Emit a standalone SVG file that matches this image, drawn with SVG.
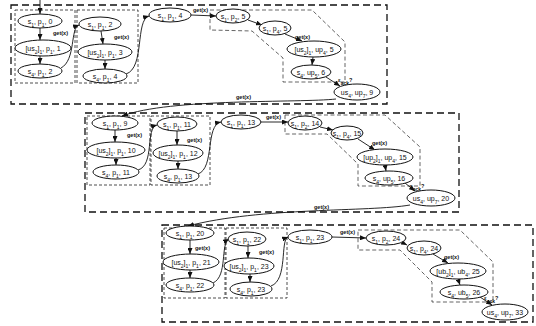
<svg xmlns="http://www.w3.org/2000/svg" width="536" height="326" viewBox="0 0 536 326">
<defs>
<marker id="a" markerUnits="userSpaceOnUse" markerWidth="6" markerHeight="5" refX="6" refY="2.5" orient="auto"><path d="M0,0 L6,2.5 L0,5 z" fill="#111"/></marker>
<style>
.o{fill:none;stroke:#111;stroke-width:1.3;stroke-dasharray:7 4}
.i{fill:none;stroke:#222;stroke-width:0.8;stroke-dasharray:3 2}
.h{fill:none;stroke:#222;stroke-width:0.7;stroke-dasharray:4 2.5}
ellipse{fill:#fff;stroke:#111;stroke-width:1}
text{font-family:"Liberation Sans",Arial,sans-serif;font-size:7px;text-anchor:middle;fill:#111}
.s{font-size:5px;baseline-shift:sub}
.l{font-size:5.5px;font-weight:bold;text-anchor:start}
.c{fill:none;stroke:#111;stroke-width:0.9;marker-end:url(#a)}
</style>
</defs>
<rect fill="#fff" width="536" height="326"/>
<g id="regions">
<rect class="o" x="11" y="5" width="376" height="99"/>
<rect class="i" x="15" y="10" width="60" height="73"/>
<rect class="i" x="77" y="10" width="61" height="73"/>
<polygon class="h" points="210,10 312,10 345,42 345,82 283,82 283,58 252,31 210,30"/>
<rect class="o" x="85" y="113" width="374" height="99"/>
<rect class="i" x="87" y="116" width="63" height="69"/>
<rect class="i" x="151" y="116" width="59" height="69"/>
<polygon class="h" points="285,115 385,115 420,147 420,186 358,186 358,164 327,134 285,134"/>
<rect class="o" x="162" y="225" width="371" height="97"/>
<rect class="i" x="164" y="228" width="61" height="70"/>
<rect class="i" x="226" y="228" width="61" height="70"/>
<polygon class="h" points="358,230 460,230 493,262 493,302 432,302 432,282 400,250 358,250"/>
</g>
<g id="connectors">
<path class="c" d="M40,0 L40,14"/>
<path class="c" d="M40,28 L40,40"/>
<path class="c" d="M40,56 L40,64"/>
<path class="c" d="M61,68 C76,60 70,28 79,25"/>
<path class="c" d="M101,31 L103,44"/>
<path class="c" d="M105,60 L105,69"/>
<path class="c" d="M126,74 C145,68 135,20 149,16"/>
<path class="c" d="M191,15 L216,16"/>
<path class="c" d="M248,20 L262,25"/>
<path class="c" d="M285,34 L302,41"/>
<path class="c" d="M313,57 L312,65"/>
<path class="c" d="M326,77 L340,86"/>
<path class="c" d="M336,99 C300,103 170,98 122,116"/>
<path class="c" d="M115,130 L115,142"/>
<path class="c" d="M116,158 L116,165"/>
<path class="c" d="M138,170 C155,165 145,128 157,125"/>
<path class="c" d="M177,131 L177,145"/>
<path class="c" d="M178,161 L178,169"/>
<path class="c" d="M198,174 C215,168 205,125 221,122"/>
<path class="c" d="M261,122 L288,122"/>
<path class="c" d="M320,127 L333,130"/>
<path class="c" d="M358,139 L375,150"/>
<path class="c" d="M385,165 L386,171"/>
<path class="c" d="M405,183 L415,191"/>
<path class="c" d="M410,205 C370,212 260,207 188,226"/>
<path class="c" d="M190,240 L190,254"/>
<path class="c" d="M190,270 L190,278"/>
<path class="c" d="M213,283 C228,276 220,244 229,239"/>
<path class="c" d="M248,246 L248,258"/>
<path class="c" d="M250,274 L250,282"/>
<path class="c" d="M271,286 C288,280 280,240 288,237"/>
<path class="c" d="M332,237 L366,238"/>
<path class="c" d="M403,243 L407,245"/>
<path class="c" d="M433,254 L448,263"/>
<path class="c" d="M458,279 L460,285"/>
<path class="c" d="M480,297 L492,305"/>
<text class="l" x="53" y="35">get(x)</text>
<text class="l" x="114" y="39">get(x)</text>
<text class="l" x="193" y="12">get(x)</text>
<text class="l" x="295" y="39">get(x)</text>
<text class="l" x="338" y="82">ε<tspan class="s">ack</tspan>?</text>
<text class="l" x="236" y="99">get(x)</text>
<text class="l" x="127" y="137">get(x)</text>
<text class="l" x="187" y="142">get(x)</text>
<text class="l" x="266" y="119">get(x)</text>
<text class="l" x="372" y="145">get(x)</text>
<text class="l" x="410" y="188">ε<tspan class="s">ack</tspan>?</text>
<text class="l" x="314" y="209">get(x)</text>
<text class="l" x="195" y="250">get(x)</text>
<text class="l" x="259" y="254">get(x)</text>
<text class="l" x="340" y="234">get(x)</text>
<text class="l" x="444" y="259">get(x)</text>
<text class="l" x="484" y="300">ε<tspan class="s">ack</tspan>?</text>
</g>
<g id="n1"><ellipse cx="40" cy="21" rx="22" ry="7"/><text x="40" y="23.5">s<tspan class="s">1</tspan>, p<tspan class="s">1</tspan>, 0</text></g>
<g id="n2"><ellipse cx="43" cy="48" rx="28" ry="8"/><text x="43" y="50.5">[us<tspan class="s">2</tspan>]<tspan class="s">1</tspan>, p<tspan class="s">1</tspan>, 1</text></g>
<g id="n3"><ellipse cx="40" cy="71" rx="22" ry="7"/><text x="40" y="73.5">s<tspan class="s">4</tspan>, p<tspan class="s">1</tspan>, 2</text></g>
<g id="n4"><ellipse cx="100" cy="24" rx="21" ry="7"/><text x="100" y="26.5">s<tspan class="s">1</tspan>, p<tspan class="s">1</tspan>, 2</text></g>
<g id="n5"><ellipse cx="105" cy="52" rx="27" ry="8"/><text x="105" y="54.5">[us<tspan class="s">2</tspan>]<tspan class="s">1</tspan>, p<tspan class="s">1</tspan>, 3</text></g>
<g id="n6"><ellipse cx="105" cy="76" rx="22" ry="7"/><text x="105" y="78.5">s<tspan class="s">4</tspan>, p<tspan class="s">1</tspan>, 4</text></g>
<g id="n7"><ellipse cx="170" cy="15" rx="21" ry="7"/><text x="170" y="17.5">s<tspan class="s">1</tspan>, p<tspan class="s">1</tspan>, 4</text></g>
<g id="n8"><ellipse cx="233" cy="16" rx="17" ry="7"/><text x="233" y="18.5">s<tspan class="s">1</tspan>, p<tspan class="s">2</tspan>, 5</text></g>
<g id="n9"><ellipse cx="275" cy="28" rx="16" ry="7"/><text x="275" y="30.5">s<tspan class="s">1</tspan>, p<tspan class="s">4</tspan>, 5</text></g>
<g id="n10"><ellipse cx="314" cy="49" rx="27" ry="8"/><text x="314" y="51.5">[us<tspan class="s">2</tspan>]<tspan class="s">1</tspan>, up<tspan class="s">4</tspan>, 5</text></g>
<g id="n11"><ellipse cx="311" cy="72" rx="20" ry="7"/><text x="311" y="74.5">s<tspan class="s">4</tspan>, up<tspan class="s">5</tspan>, 6</text></g>
<g id="n12"><ellipse cx="357" cy="92" rx="23" ry="8"/><text x="357" y="94.5">us<tspan class="s">4</tspan>, up<tspan class="s">7</tspan>, 9</text></g>
<g id="m1"><ellipse cx="115" cy="123" rx="23" ry="7"/><text x="115" y="125.5">s<tspan class="s">1</tspan>, p<tspan class="s">1</tspan>, 9</text></g>
<g id="m2"><ellipse cx="116" cy="150" rx="29" ry="8"/><text x="116" y="152.5">[us<tspan class="s">2</tspan>]<tspan class="s">1</tspan>, p<tspan class="s">1</tspan>, 10</text></g>
<g id="m3"><ellipse cx="116" cy="172" rx="23" ry="7"/><text x="116" y="174.5">s<tspan class="s">4</tspan>, p<tspan class="s">1</tspan>, 11</text></g>
<g id="m4"><ellipse cx="177" cy="124" rx="20" ry="7"/><text x="177" y="126.5">s<tspan class="s">1</tspan>, p<tspan class="s">1</tspan>, 11</text></g>
<g id="m5"><ellipse cx="178" cy="153" rx="25" ry="8"/><text x="178" y="155.5">[us<tspan class="s">2</tspan>]<tspan class="s">1</tspan>, p<tspan class="s">1</tspan>, 12</text></g>
<g id="m6"><ellipse cx="178" cy="176" rx="21" ry="7"/><text x="178" y="178.5">s<tspan class="s">4</tspan>, p<tspan class="s">1</tspan>, 13</text></g>
<g id="m7"><ellipse cx="241" cy="122" rx="20" ry="7"/><text x="241" y="124.5">s<tspan class="s">1</tspan>, p<tspan class="s">1</tspan>, 13</text></g>
<g id="m8"><ellipse cx="305" cy="123" rx="17" ry="7"/><text x="305" y="125.5">s<tspan class="s">1</tspan>, p<tspan class="s">2</tspan>, 14</text></g>
<g id="m9"><ellipse cx="347" cy="133" rx="16" ry="7"/><text x="347" y="135.5">s<tspan class="s">1</tspan>, p<tspan class="s">4</tspan>, 15</text></g>
<g id="m10"><ellipse cx="385" cy="157" rx="28" ry="8"/><text x="385" y="159.5">[up<tspan class="s">2</tspan>]<tspan class="s">1</tspan>, up<tspan class="s">4</tspan>, 15</text></g>
<g id="m11"><ellipse cx="389" cy="178" rx="24" ry="7"/><text x="389" y="180.5">s<tspan class="s">4</tspan>, up<tspan class="s">5</tspan>, 16</text></g>
<g id="m12"><ellipse cx="431" cy="198" rx="24" ry="8"/><text x="431" y="200.5">us<tspan class="s">4</tspan>, up<tspan class="s">7</tspan>, 20</text></g>
<g id="k1"><ellipse cx="190" cy="233" rx="24" ry="7"/><text x="190" y="235.5">s<tspan class="s">1</tspan>, p<tspan class="s">1</tspan>, 20</text></g>
<g id="k2"><ellipse cx="191" cy="262" rx="28" ry="8"/><text x="191" y="264.5">[us<tspan class="s">2</tspan>]<tspan class="s">1</tspan>, p<tspan class="s">1</tspan>, 21</text></g>
<g id="k3"><ellipse cx="190" cy="285" rx="24" ry="7"/><text x="190" y="287.5">s<tspan class="s">4</tspan>, p<tspan class="s">1</tspan>, 22</text></g>
<g id="k4"><ellipse cx="247" cy="239" rx="19" ry="7"/><text x="247" y="241.5">s<tspan class="s">1</tspan>, p<tspan class="s">1</tspan>, 22</text></g>
<g id="k5"><ellipse cx="249" cy="266" rx="25" ry="8"/><text x="249" y="268.5">[us<tspan class="s">2</tspan>]<tspan class="s">1</tspan>, p<tspan class="s">1</tspan>, 23</text></g>
<g id="k6"><ellipse cx="251" cy="289" rx="21" ry="7"/><text x="251" y="291.5">s<tspan class="s">4</tspan>, p<tspan class="s">1</tspan>, 23</text></g>
<g id="k7"><ellipse cx="310" cy="237" rx="22" ry="7"/><text x="310" y="239.5">s<tspan class="s">1</tspan>, p<tspan class="s">1</tspan>, 23</text></g>
<g id="k8"><ellipse cx="386" cy="238" rx="20" ry="7"/><text x="386" y="240.5">s<tspan class="s">1</tspan>, p<tspan class="s">2</tspan>, 24</text></g>
<g id="k9"><ellipse cx="424" cy="248" rx="17" ry="7"/><text x="424" y="250.5">s<tspan class="s">1</tspan>, p<tspan class="s">4</tspan>, 24</text></g>
<g id="k10"><ellipse cx="458" cy="271" rx="28" ry="8"/><text x="458" y="273.5">[ub<tspan class="s">2</tspan>]<tspan class="s">1</tspan>, ub<tspan class="s">4</tspan>, 25</text></g>
<g id="k11"><ellipse cx="464" cy="292" rx="24" ry="7"/><text x="464" y="294.5">s<tspan class="s">4</tspan>, ub<tspan class="s">5</tspan>, 26</text></g>
<g id="k12"><ellipse cx="505" cy="312" rx="23" ry="8"/><text x="505" y="314.5">us<tspan class="s">4</tspan>, up<tspan class="s">7</tspan>, 33</text></g>
</svg>
